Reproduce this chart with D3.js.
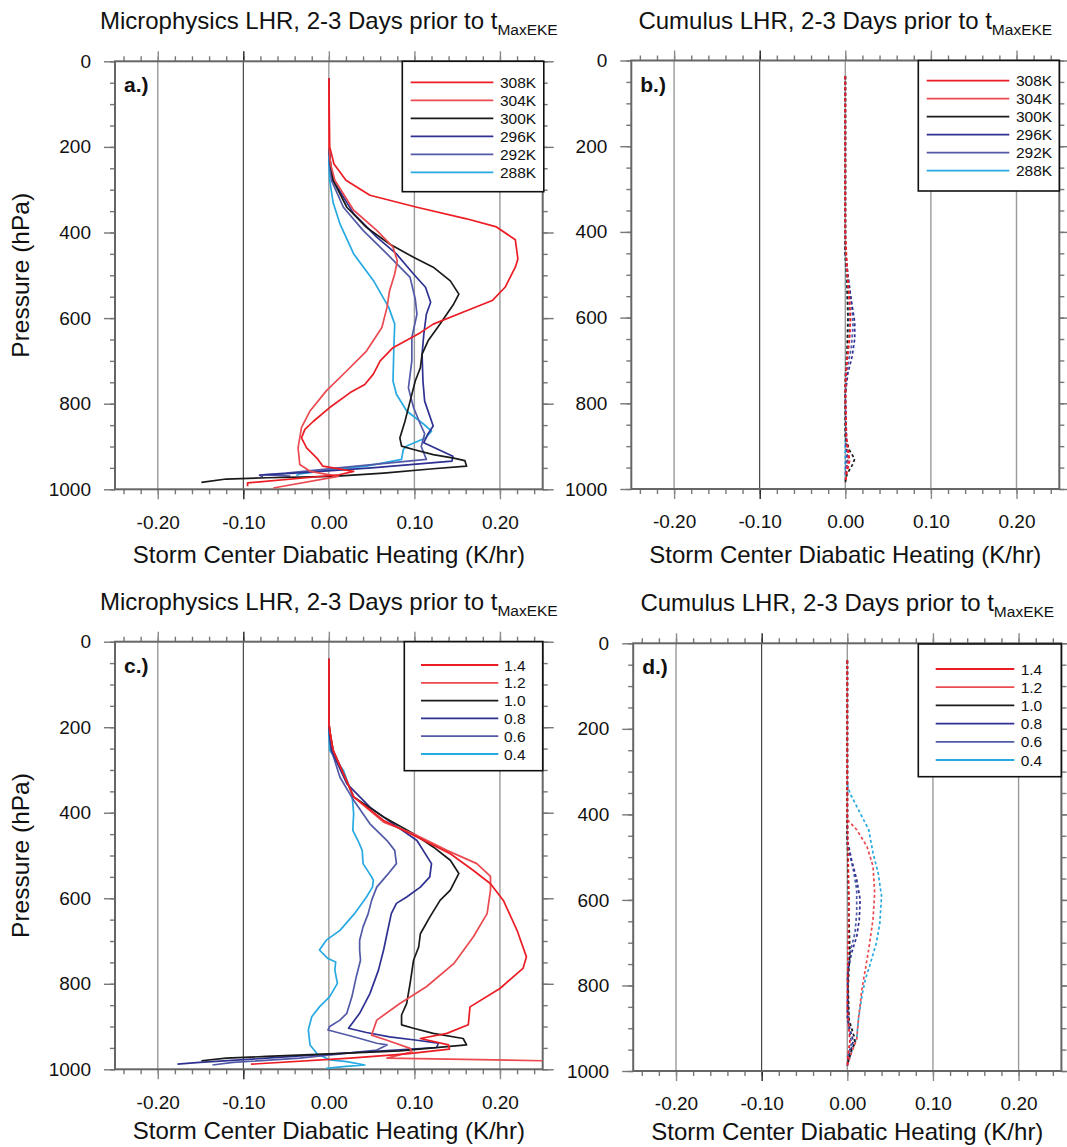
<!DOCTYPE html>
<html>
<head>
<meta charset="utf-8">
<script src="https://cdn.jsdelivr.net/npm/d3@7"></script>
<style>
  body { margin: 0; background: #fff; }
  svg { font-family: "Liberation Sans", Arial, Helvetica, sans-serif; }
</style>
</head>
<body>
<svg id="chart" width="1067" height="1147"></svg>
<script>
// ---- axis setup (shared by all 4 panels)
const heatDomain = [-0.25, 0.25];
const heatTicks = [-0.2, -0.1, 0, 0.1, 0.2];
const heatMinor = d3.range(-12, 13).map((i) => i * 0.02);
const pressureDomain = [0, 1000];
const pressureTicks = [0, 200, 400, 600, 800, 1000];
const pressureMinor = d3.range(0, 1001, 50);

const thetaLabels = ["308K", "304K", "300K", "296K", "292K", "288K"];
const scaleLabels = ["1.4", "1.2", "1.0", "0.8", "0.6", "0.4"];
const seriesColors = ["#ec1c24", "#ea4a50", "#1a1a1a", "#2e3191", "#525aa8", "#27a9e1"];

// ---- panel a: microphysics LHR, theta experiments  [pressure hPa, heating K/hr]
const mp308 = [[40,0],[200,0.001],[240,0.006],[278,0.02],[313,0.048],[341,0.103],[368,0.161],[387,0.196],[417,0.218],[462,0.221],[481,0.218],[528,0.206],[559,0.191],[583,0.161],[614,0.122],[634,0.107],[669,0.075],[700,0.06],[731,0.052],[755,0.042],[774,0.025],[809,0.001],[841,-0.018],[860,-0.028],[880,-0.032],[903,-0.026],[927,-0.014],[946,-0.007],[958,0.029],[966,0.012],[985,-0.095],[993,-0.095]];
const mp304 = [[40,0],[200,0],[240,0.002],[278,0.007],[348,0.029],[395,0.056],[434,0.075],[466,0.08],[497,0.077],[536,0.071],[575,0.068],[622,0.062],[677,0.044],[723,0.021],[770,-0.003],[817,-0.022],[856,-0.032],[903,-0.036],[942,-0.034],[958,-0.022],[970,0.011],[997,-0.065]];
const mp300 = [[40,0],[200,0],[240,0.002],[278,0.005],[341,0.021],[388,0.044],[427,0.071],[458,0.099],[481,0.122],[513,0.142],[544,0.152],[567,0.146],[614,0.13],[653,0.116],[684,0.109],[716,0.107],[747,0.101],[794,0.095],[841,0.089],[880,0.083],[899,0.085],[907,0.099],[919,0.122],[927,0.146],[933,0.159],[946,0.161],[952,0.122],[962,0.064],[970,0.005],[973,-0.073],[976,-0.12],[984,-0.149]];
const mp296 = [[40,0],[200,0],[240,0.002],[278,0.005],[356,0.029],[411,0.056],[450,0.079],[497,0.099],[528,0.113],[563,0.119],[591,0.114],[638,0.111],[684,0.109],[747,0.11],[794,0.112],[852,0.122],[870,0.116],[891,0.111],[923,0.145],[934,0.144],[950,0.05],[962,-0.04],[967,-0.081],[970,-0.077]];
const mp292 = [[40,0],[200,0],[240,0.001],[278,0.003],[341,0.017],[395,0.04],[450,0.068],[505,0.095],[555,0.101],[591,0.103],[645,0.097],[700,0.097],[763,0.093],[809,0.099],[848,0.107],[870,0.112],[900,0.108],[930,0.114],[948,0.02],[962,-0.05],[966,-0.077],[969,-0.045]];
const mp288 = [[40,0],[200,0],[240,0],[278,0.001],[330,0.005],[380,0.013],[450,0.029],[512,0.052],[575,0.07],[614,0.077],[669,0.076],[747,0.075],[778,0.079],[817,0.091],[848,0.111],[864,0.12],[880,0.113],[899,0.091],[907,0.087],[930,0.085],[946,0.044],[954,0.005],[964,-0.034],[968,-0.038]];

// ---- panel b: cumulus LHR, theta experiments
const cu308 = [[37,0],[400,0],[480,0.002],[540,0.004],[600,0.006],[650,0.005],[700,0.002],[760,0],[880,0.001],[915,0.004],[935,0.005],[960,0.002],[985,0]];
const cu304 = [[37,0],[420,0],[500,0.002],[560,0.005],[610,0.006],[660,0.004],[720,0.001],[800,0],[900,0.002],[930,0.004],[960,0.001],[985,0]];
const cu300 = [[37,0],[450,0],[520,0.002],[600,0.003],[680,0.002],[740,0],[880,0],[910,0.005],[930,0.011],[945,0.008],[965,0.002],[985,0]];
const cu296 = [[37,0],[440,0],[500,0.003],[560,0.007],[610,0.011],[650,0.011],[690,0.008],[730,0.003],[780,0],[900,0.001],[930,0.003],[970,0]];
const cu292 = [[37,0],[450,0],[520,0.004],[580,0.008],[620,0.009],[670,0.007],[720,0.002],[780,0],[920,0.002],[970,0]];
const cu288 = [[37,0],[460,0],[540,0.002],[600,0.004],[660,0.003],[720,0.001],[800,0],[985,0]];

// ---- panel c: microphysics LHR, scaling experiments
const mpS14 = [[40,0],[190,0],[220,0.002],[254,0.005],[363,0.029],[418,0.064],[457,0.103],[496,0.142],[535,0.169],[566,0.189],[605,0.204],[675,0.22],[737,0.231],[764,0.227],[811,0.2],[854,0.165],[896,0.163],[916,0.138],[928,0.107],[943,0.14],[953,0.141],[964,0.091],[974,0.025],[988,-0.091]];
const mpS12 = [[40,0],[190,0],[220,0.002],[254,0.005],[363,0.029],[422,0.064],[449,0.099],[488,0.138],[519,0.173],[549,0.189],[581,0.189],[636,0.185],[690,0.169],[753,0.146],[807,0.114],[846,0.083],[885,0.056],[920,0.05],[932,0.068],[951,0.095],[959,0.097],[974,0.068],[980,0.25]];
const mpS10 = [[40,0],[190,0],[220,0.002],[254,0.005],[363,0.029],[410,0.064],[449,0.099],[480,0.122],[511,0.142],[542,0.152],[581,0.142],[605,0.13],[644,0.118],[683,0.107],[714,0.105],[745,0.099],[799,0.095],[846,0.091],[873,0.085],[896,0.085],[904,0.099],[916,0.122],[928,0.157],[943,0.161],[957,0.083],[964,0.001],[970,-0.073],[974,-0.12],[980,-0.149]];
const mpS08 = [[40,0],[190,0],[220,0.001],[254,0.003],[332,0.021],[387,0.048],[426,0.075],[465,0.103],[519,0.12],[550,0.118],[574,0.107],[597,0.091],[612,0.079],[636,0.073],[683,0.068],[721,0.064],[768,0.058],[823,0.048],[869,0.036],[904,0.023],[914,0.044],[924,0.071],[932,0.103],[939,0.128],[949,0.126],[959,0.044],[974,-0.073],[984,-0.151],[988,-0.177]];
const mpS06 = [[40,0],[190,0],[220,0.001],[254,0.003],[317,0.013],[371,0.029],[426,0.048],[465,0.068],[488,0.077],[519,0.079],[546,0.068],[574,0.056],[605,0.05],[636,0.046],[667,0.04],[698,0.036],[721,0.036],[745,0.037],[784,0.032],[830,0.027],[869,0.021],[885,0.013],[900,0.001],[908,-0.001],[924,0.029],[939,0.056],[943,0.068],[955,0.056],[974,-0.034],[984,-0.112],[990,-0.136]];
const mpS04 = [[40,0],[190,0],[220,0],[254,0.001],[301,0.017],[356,0.027],[402,0.029],[441,0.028],[465,0.034],[488,0.039],[519,0.04],[550,0.05],[558,0.052],[574,0.051],[597,0.044],[636,0.03],[675,0.013],[698,-0.003],[721,-0.011],[741,-0.001],[749,0.008],[768,0.007],[799,0.01],[830,0.001],[854,-0.011],[877,-0.02],[908,-0.024],[943,-0.022],[963,-0.014],[978,0.001],[982,0.021],[990,0.042],[993,0.02],[998,-0.003]];

// ---- panel d: cumulus LHR, scaling experiments
const cuS14 = [[40,0],[400,0],[500,0.001],[600,0.002],[700,0.001],[850,0],[930,0.003],[960,0.001],[990,0]];
const cuS12 = [[40,0],[412,0],[436,0.011],[475,0.023],[521,0.03],[584,0.032],[646,0.03],[716,0.025],[763,0.021],[809,0.017],[879,0.013],[926,0.011],[957,0.005],[988,0]];
const cuS10 = [[40,0],[450,0],[550,0.001],[650,0.002],[720,0.003],[800,0.001],[880,0.002],[920,0.008],[935,0.009],[950,0.005],[985,0]];
const cuS08 = [[40,0],[459,0],[506,0.005],[553,0.011],[599,0.015],[646,0.014],[685,0.011],[724,0.005],[763,0.001],[879,0],[930,0.007],[973,0.001],[990,0]];
const cuS06 = [[40,0],[470,0],[529,0.007],[576,0.011],[630,0.011],[677,0.009],[724,0.003],[780,0],[900,0.002],[935,0.005],[970,0]];
const cuS04 = [[330,0],[350,0.003],[397,0.015],[436,0.025],[490,0.03],[537,0.036],[591,0.04],[654,0.038],[700,0.034],[755,0.026],[786,0.021],[825,0.017],[879,0.013],[922,0.011],[942,0.007],[981,0.001]];

class ProfilePanel {
  /**
   * one pressure-vs-heating panel
   * @param {Object} config
   * @param {Array} data  list of series (legend order)
   */
  constructor(_config, _data) {
    this.config = _config;
    this.data = _data;
    this.initVis();
  }

  initVis() {
    let vis = this;
    const c = vis.config;

    vis.xScale = d3.scaleLinear().domain(heatDomain).range([c.left, c.left + c.width]);
    vis.yScale = d3.scaleLinear().domain(pressureDomain).range([c.top, c.top + c.height]);
    vis.g = c.svg.append("g");

    //vertical grid lines at the labelled ticks (the -0.10 one prints darker)
    vis.g.selectAll(".grid")
      .data(heatTicks)
      .join("line")
      .attr("x1", (d) => vis.xScale(d))
      .attr("x2", (d) => vis.xScale(d))
      .attr("y1", c.top)
      .attr("y2", c.top + c.height)
      .attr("stroke", (d) => (d === -0.1 ? "#222" : "#9a9a9a"))
      .attr("stroke-width", (d) => (d === -0.1 ? 1 : 1.4));

    const bottom = c.top + c.height;
    const right = c.left + c.width;

    // major + minor ticks, all pointing out of the frame
    vis.addAxis(d3.axisBottom(vis.xScale).tickValues(heatMinor).tickSize(5).tickFormat(""), 0, bottom);
    vis.addAxis(d3.axisTop(vis.xScale).tickValues(heatMinor).tickSize(5).tickFormat(""), 0, c.top);
    vis.addAxis(d3.axisLeft(vis.yScale).tickValues(pressureMinor).tickSize(5).tickFormat(""), c.left, 0);
    vis.addAxis(d3.axisRight(vis.yScale).tickValues(pressureMinor).tickSize(5).tickFormat(""), right, 0);

    const xb = vis.addAxis(
      d3.axisBottom(vis.xScale).tickValues(heatTicks).tickSize(10).tickPadding(16).tickFormat((d) => d.toFixed(2)),
      0, bottom);
    const xt = vis.addAxis(d3.axisTop(vis.xScale).tickValues(heatTicks).tickSize(10).tickFormat(""), 0, c.top);
    [xb, xt].forEach((a) =>
      a.selectAll(".tick line").attr("stroke", (d) => (d === -0.1 ? "#222" : "#8a8a8a"))
    );
    vis.addAxis(
      d3.axisLeft(vis.yScale).tickValues(pressureTicks).tickSize(11).tickPadding(13).tickFormat((d) => d),
      c.left, 0);
    vis.addAxis(d3.axisRight(vis.yScale).tickValues(pressureTicks).tickSize(11).tickFormat(""), right, 0);

    //frame
    vis.g.append("rect")
      .attr("x", c.left)
      .attr("y", c.top)
      .attr("width", c.width)
      .attr("height", c.height)
      .attr("fill", "none")
      .attr("stroke", "#666")
      .attr("stroke-width", 2);

    // clip so the spike at the surface stops at the frame
    vis.g.append("clipPath")
      .attr("id", c.id + "-clip")
      .append("rect")
      .attr("x", c.left)
      .attr("y", c.top)
      .attr("width", c.width)
      .attr("height", c.height);

    vis.line = d3.line()
      .x((d) => vis.xScale(d[1]))
      .y((d) => vis.yScale(d[0]));

    // draw from the coolest/smallest run up so reds & black end up on top
    vis.g.append("g")
      .attr("clip-path", `url(#${c.id}-clip)`)
      .selectAll("path")
      .data(vis.data.slice().reverse())
      .join("path")
      .attr("d", (d) => vis.line(d.values))
      .attr("fill", "none")
      .attr("stroke", (d) => d.color)
      .attr("stroke-width", 1.7)
      .attr("stroke-linejoin", "round")
      .attr("stroke-dasharray", c.dashed ? "3,2.5" : null);

    vis.renderLabels();
    vis.renderLegend();
  }

  addAxis(axis, tx, ty) {
    let vis = this;
    const a = vis.g.append("g").attr("transform", `translate(${tx},${ty})`).call(axis);
    a.select(".domain").remove();
    a.selectAll(".tick line").attr("stroke", "#777").attr("stroke-width", 1.4);
    a.selectAll(".tick text").attr("font-size", 19).attr("fill", "#111").attr("font-family", null);
    return a;
  }

  renderLabels() {
    let vis = this;
    const c = vis.config;
    const cx = c.left + c.width / 2;

    const title = vis.g.append("text")
      .attr("x", cx)
      .attr("y", c.top - 32)
      .attr("text-anchor", "middle")
      .attr("font-size", 24)
      .attr("fill", "#111");
    title.append("tspan").text(c.title + " t");
    title.append("tspan").attr("font-size", 15.5).attr("dy", 6).text("MaxEKE");

    vis.g.append("text")
      .attr("x", cx)
      .attr("y", c.top + c.height + c.xTitleGap)
      .attr("text-anchor", "middle")
      .attr("font-size", 24)
      .attr("fill", "#111")
      .text("Storm Center Diabatic Heating (K/hr)");

    if (c.yTitle) {
      vis.g.append("text")
        .attr("transform", `translate(29,${c.top + c.height / 2}) rotate(-90)`)
        .attr("text-anchor", "middle")
        .attr("font-size", 24.5)
        .attr("fill", "#111")
        .text("Pressure (hPa)");
    }

    vis.g.append("text")
      .attr("x", c.left + 9)
      .attr("y", c.top + 31)
      .attr("font-size", 21)
      .attr("font-weight", "bold")
      .attr("fill", "#111")
      .text(c.tag);
  }

  renderLegend() {
    let vis = this;
    const L = vis.config.legend;
    const lg = vis.g.append("g");
    lg.append("rect")
      .attr("x", L.x)
      .attr("y", L.y)
      .attr("width", L.w)
      .attr("height", L.h)
      .attr("fill", "#fff")
      .attr("stroke", "#111")
      .attr("stroke-width", 1.6);
    const rows = lg.selectAll(".row")
      .data(vis.data)
      .join("g")
      .attr("transform", (d, i) => `translate(0,${L.row0 + i * L.step})`);
    rows.append("line")
      .attr("x1", L.lineX1)
      .attr("x2", L.lineX2)
      .attr("stroke", (d) => d.color)
      .attr("stroke-width", 1.8);
    rows.append("text")
      .attr("x", L.textX)
      .attr("y", 5.5)
      .attr("font-size", 15.5)
      .attr("fill", "#111")
      .text((d) => d.label);
  }
}

const svg = d3.select("#chart");
svg.append("rect").attr("width", 1067).attr("height", 1147).attr("fill", "#fff");

const makeSeries = (labels, arrays) =>
  arrays.map((values, i) => ({ label: labels[i], color: seriesColors[i], values: values }));

new ProfilePanel(
  { svg: svg, id: "pa", left: 115, top: 61.3, width: 427.7, height: 428, yTitle: true, dashed: false, tag: "a.)",
    title: "Microphysics LHR, 2-3 Days prior to", xTitleGap: 74,
    legend: { x: 402.3, y: 61.3, w: 141.5, h: 130.4, lineX1: 410.7, lineX2: 493.3, textX: 500, row0: 82.3, step: 18 } },
  makeSeries(thetaLabels, [mp308, mp304, mp300, mp296, mp292, mp288])
);

new ProfilePanel(
  { svg: svg, id: "pb", left: 631.3, top: 60.5, width: 428, height: 428.5, yTitle: false, dashed: true, tag: "b.)",
    title: "Cumulus LHR, 2-3 Days prior to", xTitleGap: 74,
    legend: { x: 918.3, y: 60.5, w: 141, h: 130.5, lineX1: 926.7, lineX2: 1009.3, textX: 1016, row0: 80.7, step: 18 } },
  makeSeries(thetaLabels, [cu308, cu304, cu300, cu296, cu292, cu288])
);

new ProfilePanel(
  { svg: svg, id: "pc", left: 115, top: 641.7, width: 427.7, height: 427.6, yTitle: true, dashed: false, tag: "c.)",
    title: "Microphysics LHR, 2-3 Days prior to", xTitleGap: 70,
    legend: { x: 404.3, y: 641.7, w: 138.4, h: 129, lineX1: 421, lineX2: 498.3, textX: 504, row0: 665, step: 17.8 } },
  makeSeries(scaleLabels, [mpS14, mpS12, mpS10, mpS08, mpS06, mpS04])
);

new ProfilePanel(
  { svg: svg, id: "pd", left: 633.2, top: 643.3, width: 428.2, height: 427.7, yTitle: false, dashed: true, tag: "d.)",
    title: "Cumulus LHR, 2-3 Days prior to", xTitleGap: 68.5,
    legend: { x: 918.3, y: 644, w: 143, h: 132.7, lineX1: 935.7, lineX2: 1014.3, textX: 1020.7, row0: 669, step: 18.2 } },
  makeSeries(scaleLabels, [cuS14, cuS12, cuS10, cuS08, cuS06, cuS04])
);
</script>
</body>
</html>
